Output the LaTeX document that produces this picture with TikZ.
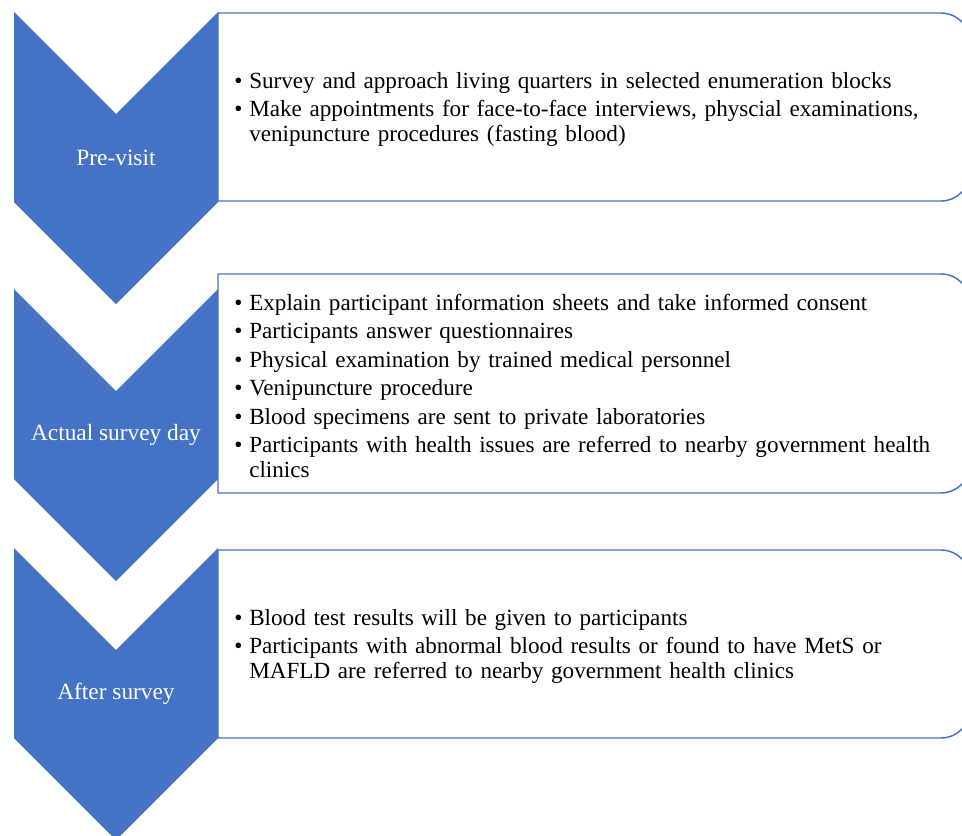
\documentclass[tikz,border=0pt]{standalone}
\usepackage{fontspec}
\setmainfont{Liberation Serif}
\definecolor{chev}{HTML}{4472C4}
\tikzset{
  chevron/.style={fill=chev, draw=none},
  stagebox/.style={draw=chev, line width=1.1pt, fill=white},
  stagelabel/.style={text=white, font=\fontsize{17.5}{20}\selectfont, anchor=center, inner sep=0pt},
  bullets/.style={text width=540pt, align=left, anchor=west, inner sep=0pt, font=\fontsize{17.35}{18.75}\selectfont}
}
\newcommand{\bitem}[1]{\par\hangindent=11.25pt\hangafter=1\noindent\makebox[11.25pt][l]{\textbullet}#1\par}
\begin{document}
\begin{tikzpicture}[x=0.75pt,y=0.75pt]
\useasboundingbox (0,0) rectangle (962,-835);
\clip (0,0) rectangle (962,-835);
% chevrons
\path[chevron] (14,-12) -- (116,-114) -- (218,-12) -- (218,-202) -- (116,-304) -- (14,-202) -- cycle;
\path[chevron] (14,-289) -- (116,-391) -- (218,-289) -- (218,-479) -- (116,-581) -- (14,-479) -- cycle;
\path[chevron] (14,-548) -- (116,-650) -- (218,-548) -- (218,-738) -- (116,-840) -- (14,-738) -- cycle;
% boxes
\draw[stagebox] (218,-13) -- (941,-13) arc (90:0:29) -- (970,-172) arc (0:-90:29) -- (218,-201) -- cycle;
\draw[stagebox] (218,-274) -- (941,-274) arc (90:0:29) -- (970,-464) arc (0:-90:29) -- (218,-493) -- cycle;
\draw[stagebox] (218,-550) -- (941,-550) arc (90:0:29) -- (970,-709) arc (0:-90:29) -- (218,-738) -- cycle;
% labels
\node[stagelabel] (l1) at (116,-158) {Pre-visit};
\node[stagelabel] (l2) at (116,-435) {Actual survey day};
\node[stagelabel] (l3) at (116,-694) {After survey};
% texts
\node[bullets] (t1) at (234,-103) {\setlength{\parskip}{2.55pt}%
\bitem{Survey and approach living quarters in selected enumeration blocks}%
\bitem{Make appointments for face-to-face interviews, physcial examinations,\newline venipuncture procedures (fasting blood)}};
\node[bullets] (t2) at (234,-380) {\setlength{\parskip}{2.55pt}%
\bitem{Explain participant information sheets and take informed consent}%
\bitem{Participants answer questionnaires}%
\bitem{Physical examination by trained medical personnel}%
\bitem{Venipuncture procedure}%
\bitem{Blood specimens are sent to private laboratories}%
\bitem{Participants with health issues are referred to nearby government health\newline clinics}};
\node[bullets] (t3) at (234,-640) {\setlength{\parskip}{2.55pt}%
\bitem{Blood test results will be given to participants}%
\bitem{Participants with abnormal blood results or found to have MetS or\newline MAFLD are referred to nearby government health clinics}};
\end{tikzpicture}
\end{document}
